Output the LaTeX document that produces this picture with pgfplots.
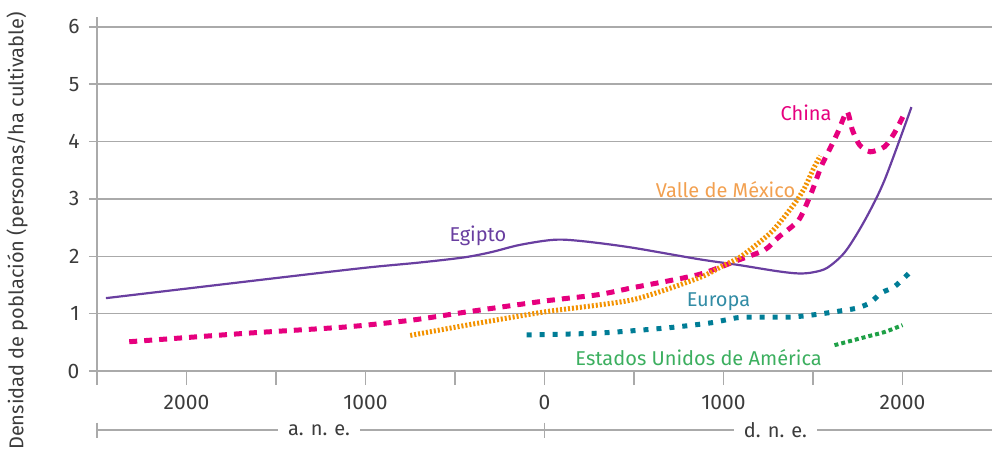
\documentclass[border=0pt]{standalone}
\usepackage{fontspec}
\setmainfont{Fira Sans}
\usepackage{pgfplots}
\pgfplotsset{compat=1.18}
\definecolor{gridc}{RGB}{170,170,170}
\definecolor{tickc}{RGB}{60,60,60}
\definecolor{egy}{RGB}{105,62,160}
\definecolor{chi}{RGB}{230,0,126}
\definecolor{mex}{RGB}{243,146,0}
\definecolor{mexl}{RGB}{242,160,80}
\definecolor{eur}{RGB}{0,125,150}
\definecolor{eurl}{RGB}{50,140,165}
\definecolor{usa}{RGB}{30,160,70}
\definecolor{usal}{RGB}{60,175,95}
\begin{document}
\begin{tikzpicture}
\useasboundingbox (-97pt,-80pt) rectangle (895pt,371pt);
\begin{axis}[
  scale only axis, width=895pt, height=354pt,
  xmin=-2500, xmax=2500, ymin=0, ymax=6.17,
  axis x line=bottom, axis y line=left,
  axis line style={-, gridc, line width=1.5pt},
  xtick={-2500,-2000,-1500,-1000,-500,0,500,1000,1500,2000},
  xticklabels={,2000,,1000,,0,,1000,,2000},
  ytick={0,1,2,3,4,5,6},
  ymajorgrids, grid style={gridc, line width=1.5pt},
  tick align=outside,
  major tick length=14pt,
  tick style={gridc, line width=1.5pt},
  ytick style={/pgfplots/major tick length=8pt},
  ticklabel style={font=\fontsize{21}{24}\selectfont, text=tickc},
  xticklabel style={yshift=-7pt},
  /pgf/number format/assume math mode=true,
  clip=false,
]
\addplot[egy, line width=2.2pt, smooth, tension=0.5] coordinates {
(-2450,1.27) (-1500,1.62) (-1000,1.80) (-700,1.89) (-450,1.98) (-300,2.07) (-150,2.19) (0,2.27) (100,2.29) (250,2.25) (490,2.15) (860,1.95) (1080,1.85) (1300,1.74) (1420,1.70) (1500,1.72) (1580,1.80) (1680,2.08) (1790,2.63) (1900,3.33) (2050,4.6)
};
\addplot[chi, line width=5pt, dash pattern=on 8pt off 7pt, smooth, tension=0.4] coordinates {
(-2320,0.51) (-1656,0.66) (-1100,0.77) (-733,0.89) (-433,1.03) (0,1.22) (300,1.33) (490,1.45) (860,1.68) (1080,1.93) (1230,2.11) (1310,2.34) (1420,2.63) (1490,3.1) (1545,3.56) (1600,3.91) (1640,4.17) (1690,4.52) (1720,4.2) (1760,3.94) (1820,3.82) (1900,3.91) (1955,4.15) (2010,4.48)
};
\addplot[mex, line width=5pt, dash pattern=on 2pt off 2pt, smooth, tension=0.4] coordinates {
(-750,0.62) (-433,0.8) (0,1.03) (490,1.24) (860,1.62) (1000,1.84) (1100,2.0) (1270,2.43) (1400,2.93) (1456,3.21) (1500,3.51) (1540,3.75)
};
\addplot[eur, line width=5pt, dash pattern=on 5pt off 8pt, smooth, tension=0.4] coordinates {
(-100,0.63) (300,0.66) (680,0.75) (930,0.84) (1080,0.93) (1230,0.94) (1380,0.94) (1530,0.99) (1680,1.06) (1750,1.1) (1820,1.19) (1880,1.36) (1955,1.47) (2045,1.73)
};
\addplot[usa, line width=4pt, dash pattern=on 4pt off 3pt, smooth, tension=0.4] coordinates {
(1620,0.45) (1790,0.59) (1900,0.68) (2000,0.8)
};
\node[text=chi, font=\fontsize{20}{24}\selectfont] at (axis cs:1461,4.5) {China};
\node[text=mexl, font=\fontsize{20}{24}\selectfont] at (axis cs:1011,3.17) {Valle de México};
\node[text=egy, font=\fontsize{20}{24}\selectfont] at (axis cs:-372,2.35) {Egipto};
\node[text=eurl, font=\fontsize{20}{24}\selectfont] at (axis cs:972,1.2) {Europa};
\node[text=usal, font=\fontsize{20}{24}\selectfont] at (axis cs:861,0.24) {Estados Unidos de América};
\draw[gridc, line width=1.5pt] (axis cs:-2500,-1.03) -- (axis cs:2500,-1.03);
\draw[gridc, line width=1.5pt] (axis cs:-2500,-0.9) -- (axis cs:-2500,-1.16);
\draw[gridc, line width=1.5pt] (axis cs:0,-0.9) -- (axis cs:0,-1.16);
\node[fill=white, inner xsep=10pt, inner ysep=1pt, text=tickc, font=\fontsize{20}{23}\selectfont] at (axis cs:-1260,-1.03) {a. n. e.};
\node[fill=white, inner xsep=10pt, inner ysep=1pt, text=tickc, font=\fontsize{20}{23}\selectfont] at (axis cs:1290,-1.03) {d. n. e.};
\end{axis}
\node[rotate=90, text=tickc, font=\fontsize{20}{23}\selectfont] at (-80pt,140pt) {Densidad de población (personas/ha cultivable)};
\end{tikzpicture}
\end{document}
